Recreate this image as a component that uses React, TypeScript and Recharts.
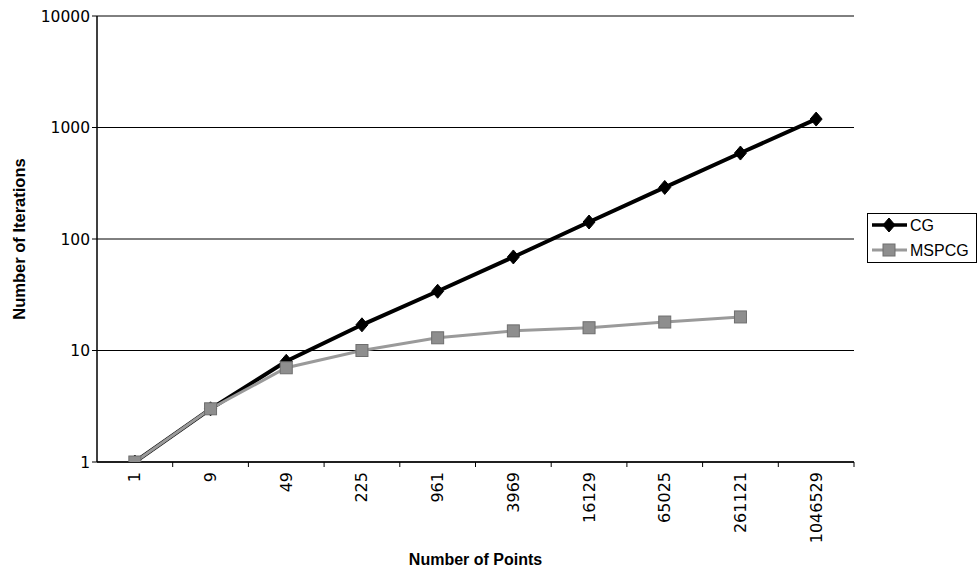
import { LineChart, Line, XAxis, YAxis, CartesianGrid, Legend } from "recharts"

const pointCounts = ["1", "9", "49", "225", "961", "3969", "16129", "65025", "261121", "1046529"]
const cgIterations = [1, 3, 8, 17, 34, 69, 142, 290, 590, 1190]
const mspcgIterations = [1, 3, 7, 10, 13, 15, 16, 18, 20, null]
const yTicks = [1, 10, 100, 1000, 10000]

const data = pointCounts.map((p, i) => ({ points: p, CG: cgIterations[i], MSPCG: mspcgIterations[i] }))

// layout
const W = 980
const H = 573
const PLOT_LEFT = 97
const PLOT_RIGHT = 854
const PLOT_TOP = 16
const PLOT_BOTTOM = 462
const BAND = (PLOT_RIGHT - PLOT_LEFT) / pointCounts.length

const tickFont = "'DejaVu Sans', sans-serif"
const titleFont = "'Liberation Sans', Arial, sans-serif"
const GREY = "#9a9a9a"

const diamond = (cx: number, cy: number, color: string) => (
  <polygon points={`${cx},${cy - 7} ${cx + 6},${cy} ${cx},${cy + 7} ${cx - 6},${cy}`} fill={color} stroke={color} />
)
const square = (cx: number, cy: number) => (
  <rect x={cx - 6} y={cy - 6} width={12} height={12} fill="#8e8e8e" stroke="#6e6e6e" strokeWidth={1} />
)

const CgDot = (props: any) => {
  const { cx, cy, index } = props
  if (cx == null || cy == null) return <g key={`cg-${index}`} />
  return <g key={`cg-${index}`}>{diamond(cx, cy, "#000")}</g>
}

const MspcgDot = (props: any) => {
  const { cx, cy, index, value } = props
  if (cx == null || cy == null || value == null) return <g key={`ms-${index}`} />
  return <g key={`ms-${index}`}>{square(cx, cy)}</g>
}

const XTick = (props: any) => {
  const { x, y, payload } = props
  const ty = y + 10
  return (
    <g>
      <line x1={x + BAND / 2} x2={x + BAND / 2} y1={y} y2={y + 5} stroke="#000" strokeWidth={1} />
      <text
        x={x}
        y={ty}
        transform={`rotate(-90 ${x} ${ty})`}
        textAnchor="end"
        dominantBaseline="central"
        fontFamily={tickFont}
        fontSize={16}
        fill="#000"
      >
        {payload.value}
      </text>
    </g>
  )
}

const renderLegend = () => (
  <div style={{ width: 110, height: 50, border: "1px solid #000", boxSizing: "border-box", background: "#fff" }}>
    <svg width={108} height={48}>
      <line x1={4} x2={39} y1={11} y2={11} stroke="#000" strokeWidth={3.5} />
      {diamond(21, 11, "#000")}
      <text x={42} y={11} dominantBaseline="central" fontFamily={titleFont} fontSize={16} fill="#000">
        CG
      </text>
      <line x1={4} x2={39} y1={36} y2={36} stroke={GREY} strokeWidth={3} />
      {square(21, 36)}
      <text x={42} y={36} dominantBaseline="central" fontFamily={titleFont} fontSize={16} fill="#000">
        MSPCG
      </text>
    </svg>
  </div>
)

export default function App() {
  return (
    <div style={{ position: "absolute", left: 0, top: 0, width: W, height: H, background: "#fff" }}>
      <LineChart
        width={W}
        height={H}
        data={data}
        margin={{ top: PLOT_TOP, right: W - PLOT_RIGHT, bottom: 0, left: 0 }}
      >
        <CartesianGrid vertical={false} stroke="#000" strokeWidth={1} />
        <XAxis
          dataKey="points"
          height={H - PLOT_BOTTOM}
          padding={{ left: BAND / 2, right: BAND / 2 }}
          axisLine={{ stroke: "#000", strokeWidth: 1.5 }}
          tickLine={false}
          tickSize={0}
          tickMargin={0}
          interval={0}
          tick={<XTick />}
          label={({ viewBox }: any) => (
            <text
              x={viewBox.x + viewBox.width / 2}
              y={viewBox.y + 103}
              textAnchor="middle"
              fontFamily={titleFont}
              fontWeight="bold"
              fontSize={16}
              fill="#000"
            >
              Number of Points
            </text>
          )}
        />
        <YAxis
          scale="log"
          domain={[1, 10000]}
          ticks={yTicks}
          interval={0}
          width={PLOT_LEFT}
          allowDataOverflow
          axisLine={{ stroke: "#000", strokeWidth: 1.5 }}
          tickLine={{ stroke: "#000" }}
          tickSize={5}
          tickMargin={2}
          tick={{ fontFamily: tickFont, fontSize: 15.5, fill: "#000" }}
          label={({ viewBox }: any) => {
            const lx = viewBox.x + 19
            const ly = viewBox.y + viewBox.height / 2
            return (
              <text
                x={lx}
                y={ly}
                transform={`rotate(-90 ${lx} ${ly})`}
                textAnchor="middle"
                dominantBaseline="central"
                fontFamily={titleFont}
                fontWeight="bold"
                fontSize={16.5}
                fill="#000"
              >
                Number of Iterations
              </text>
            )
          }}
        />
        <YAxis yAxisId="frame" orientation="right" width={0} tick={false} tickLine={false} axisLine={{ stroke: "#555", strokeWidth: 1.5 }} />
        <Legend
          layout="horizontal"
          verticalAlign="middle"
          align="center"
          content={renderLegend}
          wrapperStyle={{ position: "absolute", left: 867, top: 213, width: 110, height: 50 }}
        />
        <Line
          dataKey="CG"
          stroke="#000"
          strokeWidth={4}
          dot={CgDot}
          activeDot={false}
          isAnimationActive={false}
        />
        <Line
          dataKey="MSPCG"
          stroke={GREY}
          strokeWidth={3}
          dot={MspcgDot}
          activeDot={false}
          isAnimationActive={false}
        />
      </LineChart>
    </div>
  )
}
